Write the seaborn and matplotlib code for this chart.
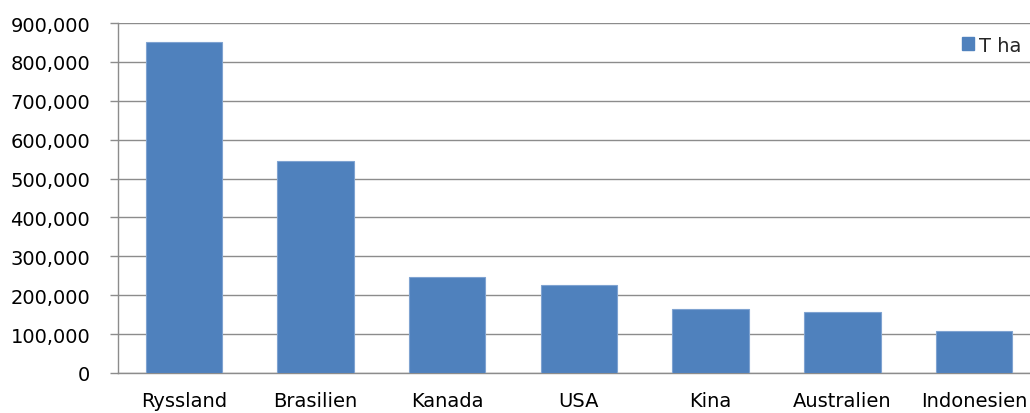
import matplotlib
matplotlib.use("Agg")
import matplotlib.pyplot as plt
import seaborn as sns
import pandas as pd
from matplotlib.ticker import FuncFormatter, FixedLocator
from matplotlib.patches import Patch

countries = ["Ryssland", "Brasilien", "Kanada", "USA", "Kina", "Australien", "Indonesien"]
t_ha = [851000, 545000, 247000, 226000, 164000, 156000, 107000]
series_name = "T ha"
y_ticks = [0, 100000, 200000, 300000, 400000, 500000, 600000, 700000, 800000, 900000]

df = pd.DataFrame({"Land": countries, series_name: t_ha})

sns.set_style("white")
plt.rcParams["font.family"] = ["DejaVu Sans"]

fig = plt.figure(figsize=(10.3, 4.14), dpi=100)
ax = fig.add_axes([118/1030, 40/414, 1 - 118/1030, 350/414])

sns.barplot(data=df, x="Land", y=series_name, color="#4F81BD", width=0.58,
            saturation=1, edgecolor="#7FA3D1", linewidth=0.8, ax=ax, zorder=3)

ax.set_ylim(0, 900000)
ax.set_xlim(-0.5, 6.425)
ax.set_yticks(y_ticks)
ax.yaxis.set_major_formatter(FuncFormatter(lambda v, p: f"{int(v):,}"))
ax.yaxis.grid(True, color="#8C8C8C", linewidth=1.0, zorder=0)
ax.set_axisbelow(True)

ax.set_xlabel("")
ax.set_ylabel("")
ax.tick_params(axis="x", which="major", length=0, pad=13, labelsize=14, colors="black")
ax.xaxis.set_minor_locator(FixedLocator([i + 0.5 for i in range(-1, 7)]))
ax.tick_params(axis="x", which="minor", length=6, width=1, color="#8C8C8C", direction="out")
ax.tick_params(axis="y", which="major", length=6, width=1, color="#8C8C8C", direction="out",
               pad=14, labelsize=14, labelcolor="black", left=True)

for s in ["top", "right"]:
    ax.spines[s].set_visible(False)
for s in ["left", "bottom"]:
    ax.spines[s].set_color("#8C8C8C")
    ax.spines[s].set_linewidth(1.0)

handle = Patch(facecolor="#4F81BD", edgecolor="#4F81BD")
fig.legend(handles=[handle], labels=[series_name], loc="center left",
           bbox_to_anchor=(952/1030, 1 - 46/414), frameon=False, fontsize=14,
           handlelength=0.65, handleheight=0.65, handletextpad=0.25, borderpad=0)

fig.savefig("out.png", dpi=100)
